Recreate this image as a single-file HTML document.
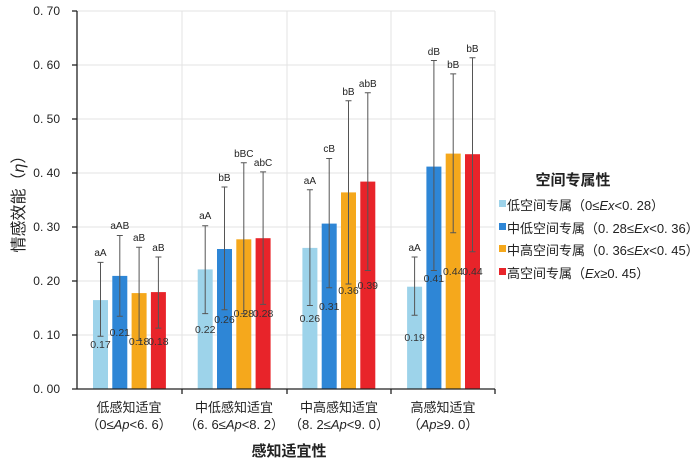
<!DOCTYPE html>
<html><head><meta charset="utf-8"><style>
body{margin:0;background:#fff;}
text{font-family:"Liberation Sans","Noto Sans CJK SC",sans-serif;}
.t{font-size:10px;fill:#222;text-anchor:middle}
.v{font-size:10.5px;fill:#333;text-anchor:middle}
.e{stroke:#555;stroke-width:1}
</style></head><body>
<svg width="698" height="463" xmlns="http://www.w3.org/2000/svg">
<g stroke="#e3e3e3" stroke-width="1">
<line x1="77" y1="11" x2="495" y2="11"/><line x1="77" y1="65" x2="495" y2="65"/><line x1="77" y1="119" x2="495" y2="119"/><line x1="77" y1="173" x2="495" y2="173"/><line x1="77" y1="227" x2="495" y2="227"/><line x1="77" y1="281" x2="495" y2="281"/><line x1="77" y1="335" x2="495" y2="335"/>
<line x1="182" y1="11" x2="182" y2="389"/><line x1="287" y1="11" x2="287" y2="389"/><line x1="391" y1="11" x2="391" y2="389"/><line x1="495" y1="11" x2="495" y2="389"/>
</g>
<g font-size="12" fill="#222" text-anchor="end">
<text x="60" y="15">0. 70</text><text x="60" y="69">0. 60</text><text x="60" y="123">0. 50</text><text x="60" y="177">0. 40</text><text x="60" y="231">0. 30</text><text x="60" y="285">0. 20</text><text x="60" y="339">0. 10</text><text x="60" y="393">0. 00</text>
</g>
<g fill="#9dd3ea"><rect x="93" y="300.1" width="15" height="88.9"/><rect x="197.7" y="269.4" width="15" height="119.6"/><rect x="302.4" y="247.9" width="15" height="141.1"/><rect x="407.1" y="286.7" width="15" height="102.3"/></g>
<g fill="#2e86d6"><rect x="112.3" y="275.9" width="15" height="113.1"/><rect x="217" y="249" width="15" height="140"/><rect x="321.7" y="223.6" width="15" height="165.4"/><rect x="426.4" y="166.6" width="15" height="222.4"/></g>
<g fill="#f5a81c"><rect x="131.6" y="293.1" width="15" height="95.9"/><rect x="236.3" y="239.3" width="15" height="149.7"/><rect x="341" y="192.4" width="15" height="196.6"/><rect x="445.7" y="153.6" width="15" height="235.4"/></g>
<g fill="#e8242a"><rect x="150.9" y="292.1" width="15" height="96.9"/><rect x="255.6" y="238.2" width="15" height="150.8"/><rect x="360.3" y="181.6" width="15" height="207.4"/><rect x="465" y="154.2" width="15" height="234.8"/></g>
<g class="e">
<path d="M100.5 262.4V336.2M97.5 262.4h6M97.5 336.2h6"/>
<path d="M119.8 235.5V316.3M116.8 235.5h6M116.8 316.3h6"/>
<path d="M139.1 247.3V340.5M136.1 247.3h6M136.1 340.5h6"/>
<path d="M158.4 257V328.1M155.4 257h6M155.4 328.1h6"/>
<path d="M205.2 225.8V313.6M202.2 225.8h6M202.2 313.6h6"/>
<path d="M224.5 187V309.8M221.5 187h6M221.5 309.8h6"/>
<path d="M243.8 162.8V313.6M240.8 162.8h6M240.8 313.6h6"/>
<path d="M263.1 171.9V304.4M260.1 171.9h6M260.1 304.4h6"/>
<path d="M309.9 189.7V305.5M306.9 189.7h6M306.9 305.5h6"/>
<path d="M329.2 158.5V287.7M326.2 158.5h6M326.2 287.7h6"/>
<path d="M348.5 100.8V284M345.5 100.8h6M345.5 284h6"/>
<path d="M367.8 92.8V270.5M364.8 92.8h6M364.8 270.5h6"/>
<path d="M414.6 257V315.2M411.6 257h6M411.6 315.2h6"/>
<path d="M433.9 60.5V270.5M430.9 60.5h6M430.9 270.5h6"/>
<path d="M453.2 73.9V232.8M450.2 73.9h6M450.2 232.8h6"/>
<path d="M472.5 57.8V251.7M469.5 57.8h6M469.5 251.7h6"/>
</g>
<g class="t">
<text x="100.5" y="256">aA</text><text x="119.8" y="229">aAB</text><text x="139.1" y="241">aB</text><text x="158.4" y="251">aB</text>
<text x="205.2" y="219">aA</text><text x="224.5" y="181">bB</text><text x="243.8" y="157">bBC</text><text x="263.1" y="166">abC</text>
<text x="309.9" y="184">aA</text><text x="329.2" y="152">cB</text><text x="348.5" y="95">bB</text><text x="367.8" y="87">abB</text>
<text x="414.6" y="251">aA</text><text x="433.9" y="55">dB</text><text x="453.2" y="68">bB</text><text x="472.5" y="52">bB</text>
</g>
<g class="v">
<text x="100.5" y="348">0.17</text><text x="119.8" y="336">0.21</text><text x="139.1" y="345">0.18</text><text x="158.4" y="345">0.18</text>
<text x="205.2" y="333">0.22</text><text x="224.5" y="323">0.26</text><text x="243.8" y="317">0.28</text><text x="263.1" y="317">0.28</text>
<text x="309.9" y="322">0.26</text><text x="329.2" y="310">0.31</text><text x="348.5" y="294">0.36</text><text x="367.8" y="289">0.39</text>
<text x="414.6" y="341">0.19</text><text x="433.9" y="282">0.41</text><text x="453.2" y="275">0.44</text><text x="472.5" y="275">0.44</text>
</g>
<g stroke="#222" stroke-width="1.3">
<line x1="77" y1="11" x2="77" y2="389"/><line x1="72" y1="389" x2="495" y2="389"/>
<line x1="72" y1="11" x2="77" y2="11"/><line x1="72" y1="65" x2="77" y2="65"/><line x1="72" y1="119" x2="77" y2="119"/><line x1="72" y1="173" x2="77" y2="173"/><line x1="72" y1="227" x2="77" y2="227"/><line x1="72" y1="281" x2="77" y2="281"/><line x1="72" y1="335" x2="77" y2="335"/>
<line x1="182" y1="389" x2="182" y2="394"/><line x1="287" y1="389" x2="287" y2="394"/><line x1="391" y1="389" x2="391" y2="394"/><line x1="495" y1="389" x2="495" y2="394"/>
</g>
<g font-size="13" fill="#222" text-anchor="middle">
<text x="129" y="412">低感知适宜</text><text x="129" y="429">（0≤<tspan font-style="italic">Ap</tspan>&lt;6. 6）</text>
<text x="234" y="412">中低感知适宜</text><text x="234" y="429">（6. 6≤<tspan font-style="italic">Ap</tspan>&lt;8. 2）</text>
<text x="339" y="412">中高感知适宜</text><text x="339" y="429">（8. 2≤<tspan font-style="italic">Ap</tspan>&lt;9. 0）</text>
<text x="443" y="412">高感知适宜</text><text x="443" y="429">（<tspan font-style="italic">Ap</tspan>≥9. 0）</text>
</g>
<text x="289" y="456" font-size="15" font-weight="bold" text-anchor="middle" fill="#222">感知适宜性</text>
<text transform="translate(24,200) rotate(-90)" font-size="16" text-anchor="middle" fill="#222">情感效能（<tspan font-style="italic">η</tspan>）</text>
<text x="573" y="185" font-size="15" font-weight="bold" text-anchor="middle" fill="#222">空间专属性</text>
<g font-size="13" fill="#222">
<rect x="499" y="200" width="7" height="7" fill="#9dd3ea"/><text x="507" y="210">低空间专属（0≤<tspan font-style="italic">Ex</tspan>&lt;0. 28）</text>
<rect x="499" y="223" width="7" height="7" fill="#2e86d6"/><text x="507" y="233">中低空间专属（0. 28≤<tspan font-style="italic">Ex</tspan>&lt;0. 36）</text>
<rect x="499" y="245" width="7" height="7" fill="#f5a81c"/><text x="507" y="255">中高空间专属（0. 36≤<tspan font-style="italic">Ex</tspan>&lt;0. 45）</text>
<rect x="499" y="268" width="7" height="7" fill="#e8242a"/><text x="507" y="278">高空间专属（<tspan font-style="italic">Ex</tspan>≥0. 45）</text>
</g>
</svg>
</body></html>
